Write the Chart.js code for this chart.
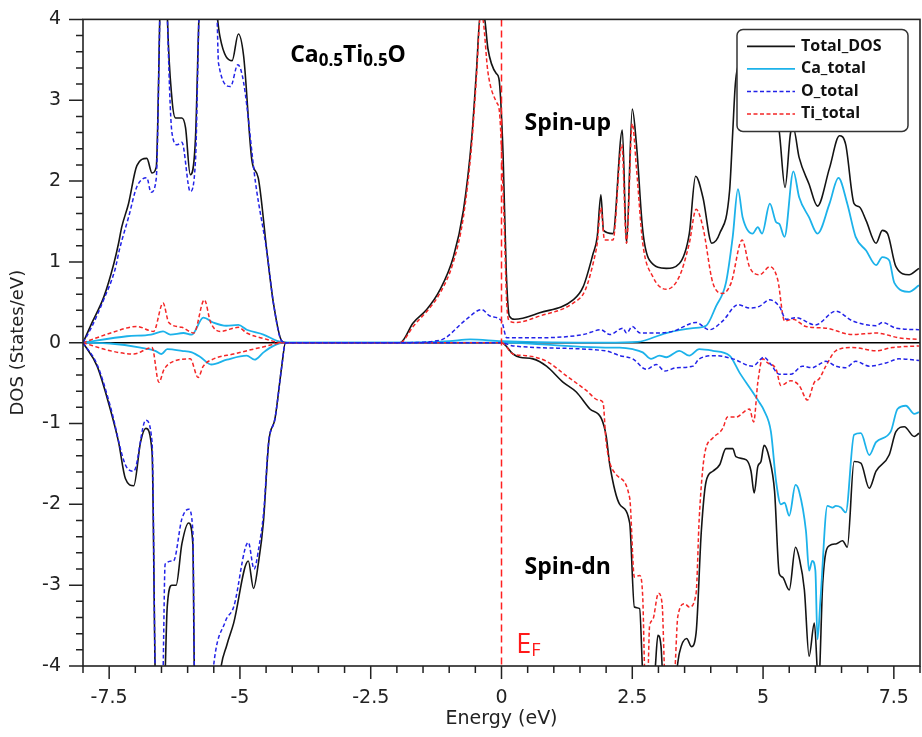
<!DOCTYPE html>
<html>
<head>
<meta charset="utf-8">
<script src="https://cdn.jsdelivr.net/npm/chart.js@4.4.1/dist/chart.umd.min.js"></script>
<style>
  html, body { margin: 0; background: #fff; }
  #wrap { width: 922px; height: 737px; }
</style>
</head>
<body>
<div id="wrap"><canvas id="dos" width="922" height="737"></canvas></div>
<script>
// Energy (eV) and DOS (states/eV), spin-up then spin-down.
const totalUpE = [-8, -7.83, -7.6, -7.41, -7.32, -7.26, -7.13, -6.97, -6.78, -6.68, -6.6, -6.53, -6.46, -6.39, -6.3, -6.23, -6.11, -6.04, -5.95, -5.85, -5.78, -5.62, -5.44, -5.38, -5.15, -5.03, -4.93, -4.77, -4.65, -4.48, -4.36, -4.2, -4.1,
  -1.94, -1.69, -1.43, -1.18, -0.92, -0.73, -0.57, -0.48, -0.4, -0.32, -0.26, -0.1, -0.05, 0.03, 0.09, 0.15, 0.25, 0.73, 1.37, 1.56, 1.75, 1.83, 1.9, 1.95, 2.13, 2.31, 2.39, 2.5, 2.58, 2.7, 2.83, 3.15, 3.4, 3.59, 3.71, 3.85, 4.02, 4.17, 4.36, 4.42, 4.47, 4.55, 4.65, 4.8, 4.95, 5.13, 5.31, 5.42, 5.53, 5.58, 5.69, 5.88, 6.04, 6.27, 6.46, 6.58, 6.74, 6.84, 6.97, 7.16, 7.28, 7.38, 7.54, 7.79, 7.98];
const totalUpD = [0, 0.245, 0.57, 0.98, 1.23, 1.43, 1.72, 2.19, 2.28, 2.1, 2.17, 4.1, 6.5, 4.1, 3.02, 2.78, 2.78, 2.66, 2.08, 2.53, 4.1, 6.0, 4.1, 3.78, 3.49, 3.82, 3.55, 2.25, 2.04, 1.1, 0.49, 0.02, 0,
  0, 0.245, 0.41, 0.65, 1.06, 1.63, 2.53, 3.35, 4.1, 4.0, 3.64, 3.33, 3.27, 2.33, 0.9, 0.33, 0.29, 0.37, 0.53, 0.69, 1.1, 1.31, 1.83, 1.39, 1.35, 2.63, 1.23, 2.89, 2.45, 1.39, 1.02, 0.92, 0.98, 1.35, 2.06, 1.8, 1.23, 1.35, 1.88, 2.6, 3.2, 3.45, 3.3, 2.95, 3.0, 3.2, 2.61, 1.92, 2.61, 2.65, 2.29, 1.96, 1.69, 2.16, 2.56, 2.45, 1.72, 1.68, 1.51, 1.23, 1.39, 1.35, 0.94, 0.84, 0.92];

const caUpE = [-8, -7.16, -6.7, -6.47, -6.33, -6.08, -5.92, -5.7, -5.51, -5.26, -5.03, -4.87, -4.55, -4.28, -4.15, -1.94, -1.0, -0.6, 0, 2.0, 2.6, 3.15, 3.66, 3.91, 4.1, 4.29, 4.42, 4.52, 4.61, 4.8, 4.9, 4.98, 5.13, 5.25, 5.31, 5.41, 5.58, 5.69, 5.88, 6.04, 6.27, 6.44, 6.61, 6.77, 6.97, 7.16, 7.28, 7.41, 7.51, 7.79, 7.98];
const caUpD = [0, 0.08, 0.1, 0.14, 0.1, 0.12, 0.1, 0.31, 0.25, 0.21, 0.22, 0.16, 0.1, 0.02, 0, 0, 0.02, 0.04, 0.02, 0, 0.01, 0.12, 0.18, 0.21, 0.45, 0.74, 1.31, 1.9, 1.55, 1.35, 1.43, 1.35, 1.72, 1.49, 1.47, 1.31, 2.12, 1.8, 1.55, 1.35, 1.72, 2.04, 1.72, 1.31, 1.14, 0.96, 1.06, 1.02, 0.74, 0.63, 0.71];

const oUpE = [-8, -7.83, -7.6, -7.39, -7.3, -7.13, -6.97, -6.78, -6.7, -6.6, -6.53, -6.46, -6.39, -6.3, -6.2, -6.11, -5.95, -5.85, -5.78, -5.62, -5.44, -5.41, -5.18, -5.04, -4.93, -4.7, -4.48, -4.36, -4.2, -4.1,
  -1.94, -1.18, -0.67, -0.38, -0.22, 0, 0.1, 0.6, 1.56, 1.9, 2.07, 2.32, 2.39, 2.5, 2.65, 2.89, 3.27, 3.72, 3.97, 4.23, 4.52, 4.74, 4.93, 5.12, 5.31, 5.44, 5.63, 6.0, 6.39, 6.71, 7.16, 7.28, 7.54, 7.98];
const oUpD = [0, 0.2, 0.54, 0.9, 1.16, 1.55, 1.93, 2.04, 1.86, 2.03, 4.1, 6.2, 4.1, 2.6, 2.45, 2.48, 1.87, 2.25, 4.1, 5.8, 4.1, 3.46, 3.17, 3.44, 3.22, 1.97, 1.1, 0.49, 0.02, 0,
  0, 0.03, 0.29, 0.41, 0.33, 0.27, 0.06, 0.06, 0.1, 0.16, 0.1, 0.18, 0.12, 0.2, 0.12, 0.12, 0.14, 0.25, 0.16, 0.27, 0.47, 0.43, 0.45, 0.53, 0.45, 0.29, 0.31, 0.22, 0.39, 0.27, 0.21, 0.25, 0.18, 0.16];

const tiUpE = [-8, -7.87, -7.47, -6.97, -6.65, -6.47, -6.36, -6.11, -5.88, -5.68, -5.56, -5.38, -5.03, -4.87, -4.48, -4.2,
  -1.94, -1.69, -1.18, -0.92, -0.73, -0.57, -0.48, -0.4, -0.36, -0.26, -0.1, -0.04, 0.04, 0.1, 0.15, 0.27, 0.73, 1.37, 1.6, 1.78, 1.83, 1.9, 1.97, 2.13, 2.3, 2.39, 2.5, 2.58, 2.7, 2.89, 3.15, 3.4, 3.59, 3.72, 3.85, 4.04, 4.23, 4.39, 4.6, 4.74, 4.93, 5.13, 5.28, 5.41, 5.57, 5.82, 6.2, 6.71, 7.16, 7.6, 7.98];
const tiUpD = [0, 0.03, 0.12, 0.2, 0.14, 0.49, 0.25, 0.19, 0.12, 0.53, 0.25, 0.14, 0.19, 0.12, 0.04, 0,
  0, 0.2, 0.61, 1.0, 1.55, 2.45, 3.27, 4.05, 4.02, 3.35, 2.98, 2.86, 1.71, 0.49, 0.27, 0.25, 0.33, 0.49, 0.65, 1.06, 1.23, 1.67, 1.27, 1.27, 2.45, 1.23, 2.71, 2.16, 1.23, 0.82, 0.66, 0.82, 1.23, 1.65, 1.43, 0.74, 0.61, 0.74, 1.27, 0.94, 0.84, 0.94, 0.78, 0.27, 0.29, 0.2, 0.18, 0.1, 0.12, 0.06, 0.04];

const totalDnE = [-8, -7.73, -7.48, -7.32, -7.19, -7.03, -6.9, -6.8, -6.68, -6.62, -6.52, -6.43, -6.39, -6.3, -6.22, -6.11, -5.98, -5.9, -5.87, -5.6, -5.38, -5.25, -5.12, -4.84, -4.74, -4.65, -4.55, -4.45, -4.33, -4.2, -4.13,
  0, 0.22, 0.35, 0.6, 0.86, 1.18, 1.43, 1.69, 1.91, 2.0, 2.07, 2.26, 2.45, 2.54, 2.64, 2.7, 2.8, 2.93, 2.99, 3.05, 3.08, 3.2, 3.34, 3.4, 3.54, 3.63, 3.72, 3.82, 3.91, 4.04, 4.17, 4.29, 4.42, 4.48, 4.68, 4.77, 4.83, 4.9, 4.96, 5.02, 5.12, 5.22, 5.31, 5.37, 5.5, 5.62, 5.69, 5.79, 5.88, 5.98, 6.04, 6.06, 6.08, 6.14, 6.27, 6.39, 6.52, 6.61, 6.74, 6.87, 7.03, 7.16, 7.41, 7.54, 7.7, 7.89, 7.98];
const totalDnD = [0, -0.29, -0.82, -1.23, -1.68, -1.77, -1.23, -1.06, -1.35, -4.1, -6, -4.1, -3.27, -3.0, -3.0, -2.49, -2.23, -2.49, -4.1, -6, -4.1, -3.74, -3.47, -2.7, -3.04, -2.74, -2.21, -1.23, -0.94, -0.29, 0,
  0, -0.14, -0.18, -0.2, -0.29, -0.49, -0.61, -0.82, -0.94, -1.15, -1.51, -2.0, -2.23, -3.27, -3.29, -4.1, -4.6, -4.1, -3.62, -3.76, -4.1, -4.6, -4.1, -3.84, -3.66, -3.76, -3.59, -2.33, -1.72, -1.59, -1.51, -1.31, -1.31, -1.41, -1.45, -1.59, -1.86, -1.53, -1.47, -1.27, -1.43, -1.84, -2.86, -2.9, -3.06, -2.53, -2.66, -3.06, -3.88, -3.47, -4.1, -4.3, -4.1, -2.98, -2.51, -2.49, -2.45, -2.53, -1.47, -1.49, -1.8, -1.59, -1.39, -1.1, -1.04, -1.16, -1.12];

const caDnE = [-8, -7.48, -6.9, -6.62, -6.5, -6.39, -6.11, -5.92, -5.75, -5.55, -5.25, -4.87, -4.72, -4.55, -4.36, -4.15, 0, 1.0, 1.98, 2.26, 2.51, 2.7, 2.86, 3.02, 3.15, 3.4, 3.59, 3.78, 4.04, 4.36, 4.55, 4.8, 4.93, 5.02, 5.15, 5.25, 5.34, 5.41, 5.5, 5.62, 5.69, 5.82, 5.88, 5.94, 6.0, 6.04, 6.1, 6.23, 6.33, 6.39, 6.49, 6.58, 6.74, 6.87, 7.03, 7.16, 7.44, 7.57, 7.73, 7.89, 7.98];
const caDnD = [0, -0.01, -0.06, -0.1, -0.14, -0.08, -0.1, -0.12, -0.18, -0.27, -0.21, -0.16, -0.21, -0.12, -0.04, 0, 0, -0.03, -0.06, -0.06, -0.08, -0.12, -0.2, -0.16, -0.18, -0.1, -0.16, -0.08, -0.1, -0.16, -0.37, -0.61, -0.74, -0.84, -1.1, -1.72, -2.0, -1.98, -2.14, -1.76, -1.84, -2.33, -2.82, -2.7, -2.82, -3.67, -3.15, -2.02, -2.04, -2.02, -2.04, -2.1, -1.14, -1.12, -1.39, -1.23, -1.1, -0.82, -0.78, -0.88, -0.86];

const oDnE = [-8, -7.73, -7.48, -7.19, -7.03, -6.8, -6.68, -6.62, -6.55, -6.47, -6.43, -6.27, -6.11, -5.98, -5.9, -5.87, -5.7, -5.52, -5.28, -5.12, -4.84, -4.73, -4.63, -4.55, -4.45, -4.33, -4.2, -4.13,
  0, 0.22, 1.98, 2.26, 2.51, 2.77, 2.96, 3.12, 3.34, 3.66, 3.78, 4.1, 4.42, 4.8, 5.02, 5.15, 5.31, 5.53, 5.75, 5.94, 6.07, 6.2, 6.39, 6.58, 6.77, 7.03, 7.35, 7.6, 7.98];
const oDnD = [0, -0.27, -0.78, -1.51, -1.59, -0.96, -1.23, -4.1, -6, -4.1, -2.74, -2.7, -2.18, -2.06, -2.33, -4.1, -6, -4.1, -3.45, -3.27, -2.47, -2.8, -2.5, -2.12, -1.23, -0.94, -0.29, 0,
  0, -0.04, -0.1, -0.16, -0.2, -0.33, -0.27, -0.35, -0.31, -0.29, -0.2, -0.16, -0.2, -0.29, -0.18, -0.27, -0.39, -0.39, -0.29, -0.31, -0.27, -0.23, -0.29, -0.31, -0.23, -0.29, -0.25, -0.2, -0.22];

const tiDnE = [-8, -7.48, -7.03, -6.68, -6.55, -6.45, -6.27, -5.95, -5.8, -5.7, -5.5, -5.12, -4.61, -4.13,
  0, 0.22, 0.47, 0.86, 1.24, 1.62, 1.85, 1.94, 2.0, 2.19, 2.45, 2.54, 2.64, 2.7, 2.74, 2.77, 2.8, 2.83, 2.89, 3.0, 3.07, 3.12, 3.2, 3.31, 3.37, 3.5, 3.59, 3.72, 3.78, 3.88, 4.04, 4.23, 4.32, 4.48, 4.74, 4.82, 4.9, 4.99, 5.09, 5.25, 5.34, 5.53, 5.69, 5.85, 5.98, 6.07, 6.2, 6.39, 6.71, 7.16, 7.47, 7.98];
const tiDnD = [0, -0.1, -0.14, -0.06, -0.49, -0.33, -0.23, -0.2, -0.43, -0.29, -0.2, -0.14, -0.06, 0,
  0, -0.14, -0.16, -0.23, -0.41, -0.59, -0.71, -0.74, -1.23, -1.63, -1.92, -2.9, -2.88, -3.15, -4.1, -4.2, -4.1, -3.51, -3.43, -3.1, -3.23, -4.1, -4.4, -4.1, -3.39, -3.23, -3.27, -3.1, -2.17, -1.39, -1.18, -1.06, -0.92, -0.92, -0.82, -0.98, -0.49, -0.2, -0.25, -0.33, -0.53, -0.47, -0.53, -0.71, -0.49, -0.45, -0.29, -0.1, -0.06, -0.1, -0.06, -0.04];

const seriesNames = ['Total_DOS', 'Ca_total', 'O_total', 'Ti_total'];
const xRange = [-8, 8];
const yRange = [-4, 4];

const styles = {
  Total_DOS: { color: '#141414', width: 1.6, dash: [], order: 4 },
  Ca_total: { color: '#1cb2ea', width: 1.8, dash: [], order: 3 },
  O_total: { color: '#2222e8', width: 1.5, dash: [4, 2.5], order: 1 },
  Ti_total: { color: '#f42626', width: 1.5, dash: [4, 2.5], order: 2 }
};

function pts(E, D) { return E.map((e, i) => ({ x: e, y: D[i] })); }

const spinUp = [pts(totalUpE, totalUpD), pts(caUpE, caUpD), pts(oUpE, oUpD), pts(tiUpE, tiUpD)];
const spinDn = [pts(totalDnE, totalDnD), pts(caDnE, caDnD), pts(oDnE, oDnD), pts(tiDnE, tiDnD)];

function makeSet(name, data, inLegend) {
  const s = styles[name];
  return {
    label: name, data, inLegend,
    borderColor: s.color, borderWidth: s.width, borderDash: s.dash, order: s.order,
    pointRadius: 0, fill: false, cubicInterpolationMode: 'monotone', clip: 0
  };
}

const datasets = [];
seriesNames.forEach((n, i) => datasets.push(makeSet(n, spinUp[i], true)));
seriesNames.forEach((n, i) => datasets.push(makeSet(n, spinDn[i], false)));

const AXIS = '#222';

const decor = {
  id: 'decor',
  beforeDatasetsDraw(chart) {
    const { ctx, chartArea: a, scales: { y } } = chart;
    ctx.save();
    ctx.strokeStyle = '#000';
    ctx.lineWidth = 1.5;
    ctx.beginPath();
    ctx.moveTo(a.left, y.getPixelForValue(0));
    ctx.lineTo(a.right, y.getPixelForValue(0));
    ctx.stroke();
    ctx.restore();
  },
  afterDatasetsDraw(chart) {
    const { ctx, chartArea: a, scales: { x, y } } = chart;
    ctx.save();

    // Fermi level
    ctx.strokeStyle = '#ff2020';
    ctx.lineWidth = 1.5;
    ctx.setLineDash([7, 4]);
    ctx.beginPath();
    ctx.moveTo(x.getPixelForValue(0), a.top);
    ctx.lineTo(x.getPixelForValue(0), a.bottom);
    ctx.stroke();
    ctx.setLineDash([]);

    // frame
    ctx.strokeStyle = AXIS;
    ctx.lineWidth = 1.6;
    ctx.strokeRect(a.left, a.top, a.right - a.left, a.bottom - a.top);

    // tick marks, major + minor
    ctx.lineWidth = 1.5;
    ctx.beginPath();
    for (let i = -16; i <= 16; i++) {
      const px = x.getPixelForValue(i / 2);
      const len = i % 5 === 0 ? 13 : 7;
      ctx.moveTo(px, a.bottom);
      ctx.lineTo(px, a.bottom + len);
    }
    for (let j = -20; j <= 20; j++) {
      const py = y.getPixelForValue(j / 5);
      const len = j % 5 === 0 ? 14 : 7;
      ctx.moveTo(a.left, py);
      ctx.lineTo(a.left - len, py);
    }
    ctx.stroke();

    // annotations
    ctx.fillStyle = '#000';
    ctx.textBaseline = 'alphabetic';
    ctx.textAlign = 'left';
    const parts = [['Ca', 0], ['0.5', 1], ['Ti', 0], ['0.5', 1], ['O', 0]];
    let tx = x.getPixelForValue(-4.04);
    const ty = y.getPixelForValue(3.47);
    for (const [t, sub] of parts) {
      ctx.font = sub ? 'bold 17px "Open Sans"' : 'bold 23px "Open Sans"';
      ctx.fillText(t, tx, ty + (sub ? 4 : 0));
      tx += ctx.measureText(t).width;
    }
    ctx.font = 'bold 23px "Open Sans"';
    ctx.fillText('Spin-up', x.getPixelForValue(0.44), y.getPixelForValue(2.63));
    ctx.fillText('Spin-dn', x.getPixelForValue(0.44), y.getPixelForValue(-2.86));

    ctx.fillStyle = '#ff1a1a';
    ctx.font = '27px "Open Sans"';
    const ex = x.getPixelForValue(0.28), ey = y.getPixelForValue(-3.84);
    ctx.fillText('E', ex, ey);
    const ew = ctx.measureText('E').width;
    ctx.font = '18px "Open Sans"';
    ctx.fillText('F', ex + ew, ey + 3);

    // legend box
    const lx = a.right - 183, ly = a.top + 10, lw = 171, lh = 102;
    ctx.fillStyle = '#fff';
    ctx.strokeStyle = '#333';
    ctx.lineWidth = 1.5;
    ctx.beginPath();
    ctx.roundRect(lx, ly, lw, lh, 6);
    ctx.fill();
    ctx.stroke();
    const items = chart.data.datasets.filter(d => d.inLegend);
    items.forEach((d, k) => {
      const ry = ly + 17 + k * 22.5;
      ctx.strokeStyle = d.borderColor;
      ctx.lineWidth = d.borderWidth;
      ctx.setLineDash(d.borderDash);
      ctx.beginPath();
      ctx.moveTo(lx + 10, ry);
      ctx.lineTo(lx + 58, ry);
      ctx.stroke();
      ctx.setLineDash([]);
      ctx.fillStyle = '#111';
      ctx.font = 'bold 16px "Open Sans"';
      ctx.textBaseline = 'middle';
      ctx.fillText(d.label, lx + 64, ry);
    });
    ctx.restore();
  }
};

new Chart(document.getElementById('dos'), {
  type: 'line',
  data: { datasets },
  options: {
    responsive: false,
    animation: false,
    events: [],
    layout: { padding: { top: 13, right: 2, left: 0, bottom: 0 } },
    plugins: { legend: { display: false }, tooltip: { enabled: false } },
    scales: {
      x: {
        type: 'linear', min: xRange[0], max: xRange[1],
        grid: { display: false, drawTicks: true, tickLength: 13 },
        border: { display: false },
        ticks: { stepSize: 2.5, includeBounds: false, padding: 8, color: AXIS, font: { family: 'DejaVu Sans', size: 19 }, maxRotation: 0 },
        title: { display: true, text: 'Energy (eV)', color: AXIS, font: { family: 'DejaVu Sans', size: 19 }, padding: { top: 0, bottom: 7 } },
        afterFit(s) { s.height = 71; }
      },
      y: {
        type: 'linear', min: yRange[0], max: yRange[1],
        grid: { display: false, drawTicks: true, tickLength: 14 },
        border: { display: false },
        ticks: { stepSize: 1, padding: 8, color: AXIS, font: { family: 'DejaVu Sans', size: 19 } },
        title: { display: true, text: 'DOS (States/eV)', color: AXIS, font: { family: 'DejaVu Sans', size: 18 }, padding: { top: 8, bottom: 0 } },
        afterFit(s) { s.width = 83; }
      }
    }
  },
  plugins: [decor]
});
</script>
</body>
</html>
